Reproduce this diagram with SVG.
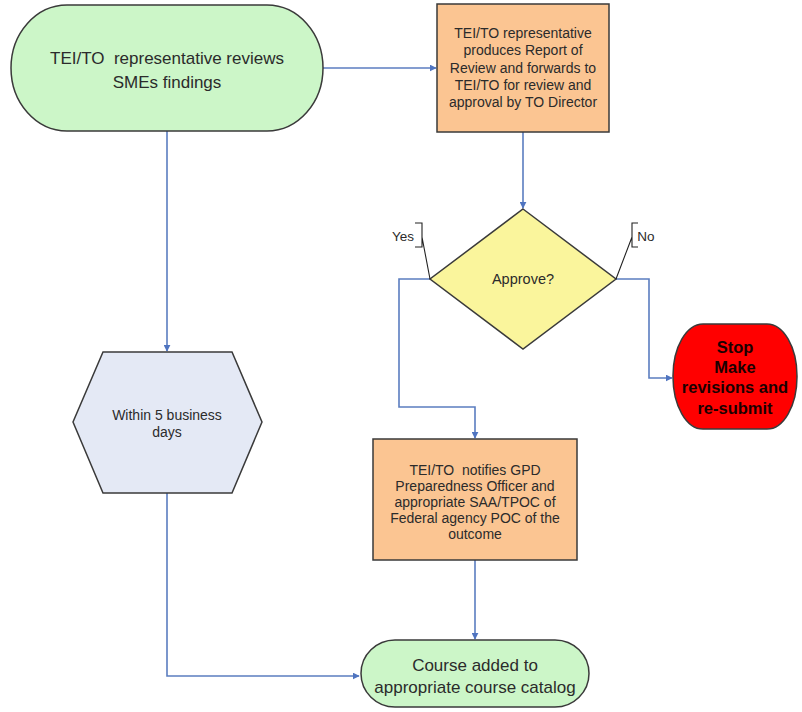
<svg xmlns="http://www.w3.org/2000/svg" width="802" height="712" viewBox="0 0 802 712">
  <defs>
    <marker id="arrow" viewBox="0 0 10 10" refX="9" refY="5" markerWidth="7" markerHeight="7" markerUnits="userSpaceOnUse" orient="auto">
      <path d="M0,0 L10,5 L0,10 z" fill="#4F74C0"/>
    </marker>
    <style>
      .shape { stroke: #3a3a3a; stroke-width: 1.5; }
      .term { fill: #CCF6C8; }
      .proc { fill: #FBC592; }
      .dec { fill: #FAF59C; }
      .hex { fill: #E4E9F5; }
      .stop { fill: #FF0000; }
      .txt { font-family: "Liberation Sans", Arial, sans-serif; fill: #2b2b2b; text-anchor: middle; white-space: pre; }
      .t17 { font-size: 17px; }
      .t14 { font-size: 14px; }
      .bold { font-weight: bold; fill: #1a0000; }
      .conn { fill: none; stroke: #5B7DC0; stroke-width: 1.6; }
      .callout { fill: none; stroke: #222; stroke-width: 1.1; }
    </style>
  </defs>

  <rect width="802" height="712" fill="#ffffff"/>

  <!-- connectors -->
  <g id="connectors">
    <path class="conn" d="M323,68 H436" marker-end="url(#arrow)"/>
    <path class="conn" d="M523,132 V208" marker-end="url(#arrow)"/>
    <path class="conn" d="M430,279 H399 V407 H475 V438" marker-end="url(#arrow)"/>
    <path class="conn" d="M616,279 H649 V378 H672" marker-end="url(#arrow)"/>
    <path class="conn" d="M167,131 V351" marker-end="url(#arrow)"/>
    <path class="conn" d="M167,493 V676 H359" marker-end="url(#arrow)"/>
    <path class="conn" d="M475,560 V639" marker-end="url(#arrow)"/>
  </g>

  <!-- start terminator -->
  <g id="review-findings">
    <rect class="shape term" x="11" y="5" width="312" height="126" rx="56" ry="63"/>
    <text class="txt t17" x="167" y="64" xml:space="preserve">TEI/TO  representative reviews</text>
    <text class="txt t17" x="167" y="88">SMEs findings</text>
  </g>

  <!-- report of review -->
  <g id="report-of-review">
    <rect class="shape proc" x="437" y="4" width="172" height="128"/>
    <text class="txt t14" x="523" y="38">TEI/TO representative</text>
    <text class="txt t14" x="523" y="55">produces Report of</text>
    <text class="txt t14" x="523" y="73">Review and forwards to</text>
    <text class="txt t14" x="523" y="90">TEI/TO for review and</text>
    <text class="txt t14" x="523" y="107">approval by TO Director</text>
  </g>

  <!-- decision -->
  <g id="approve">
    <polygon class="shape dec" points="523,209 616,279 523,349 430,279"/>
    <text class="txt" x="523" y="284" font-size="14.5">Approve?</text>
  </g>

  <!-- Yes / No callouts -->
  <g id="label-yes">
    <path class="callout" d="M415,223 H422 V247 H415 M422,237 L430,279"/>
    <text class="txt" x="403" y="241" font-size="13.5">Yes</text>
  </g>
  <g id="label-no">
    <path class="callout" d="M638,223 H632 V247 H638 M632,237 L616,279"/>
    <text class="txt" x="646" y="241" font-size="13.5">No</text>
  </g>

  <!-- stop node -->
  <g id="stop">
    <rect class="shape stop" x="673" y="324" width="124" height="105" rx="30" ry="52"/>
    <text class="txt bold" x="735" y="353" font-size="16.5">Stop</text>
    <text class="txt bold" x="735" y="373" font-size="16.5">Make</text>
    <text class="txt bold" x="735" y="393" font-size="16.5">revisions and</text>
    <text class="txt bold" x="735" y="414" font-size="16.5">re-submit</text>
  </g>

  <!-- delay hexagon -->
  <g id="within-5-days">
    <polygon class="shape hex" points="103,352 232,352 262,422 232,493 103,493 73,422"/>
    <text class="txt t14" x="167" y="420">Within 5 business</text>
    <text class="txt t14" x="167" y="437">days</text>
  </g>

  <!-- notification -->
  <g id="notify-outcome">
    <rect class="shape proc" x="373" y="439" width="204" height="121"/>
    <text class="txt t14" x="475" y="475" xml:space="preserve">TEI/TO  notifies GPD</text>
    <text class="txt t14" x="475" y="491">Preparedness Officer and</text>
    <text class="txt t14" x="475" y="507">appropriate SAA/TPOC of</text>
    <text class="txt t14" x="475" y="523">Federal agency POC of the</text>
    <text class="txt t14" x="475" y="539">outcome</text>
  </g>

  <!-- end terminator -->
  <g id="course-added">
    <rect class="shape term" x="361" y="640" width="228" height="67" rx="34" ry="33.5"/>
    <text class="txt t17" x="475" y="671">Course added to</text>
    <text class="txt t17" x="475" y="693">appropriate course catalog</text>
  </g>
</svg>
